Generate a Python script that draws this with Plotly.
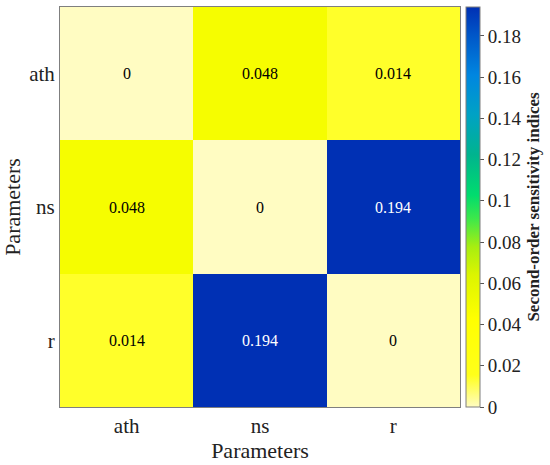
import plotly.graph_objects as go

params = ["ath", "ns", "r"]
# second-order sensitivity indices (rows: ath, ns, r)
row_ath = [0, 0.048, 0.014]
row_ns = [0.048, 0, 0.194]
row_r = [0.014, 0.194, 0]
z = [row_ath, row_ns, row_r]

cbar_ticks = [0, 0.02, 0.04, 0.06, 0.08, 0.1, 0.12, 0.14, 0.16, 0.18]
cbar_labels = ["0", "0.02", "0.04", "0.06", "0.08", "0.1", "0.12", "0.14", "0.16", "0.18"]

# parula-like scale, light yellow -> yellow -> green -> blue
cscale = [
    [0.0, "#fffcc2"],
    [0.08, "#ffff1a"],
    [0.22, "#ffff00"],
    [0.33, "#dcf500"],
    [0.40, "#a8ee10"],
    [0.47, "#3ee84a"],
    [0.53, "#00dc6e"],
    [0.63, "#00b48e"],
    [0.73, "#00a2c4"],
    [0.83, "#0086e0"],
    [0.93, "#0056c8"],
    [1.0, "#0030b4"],
]

font_family = "Liberation Serif"

fig = go.Figure(go.Heatmap(
    z=z, x=params, y=params,
    colorscale=cscale, zmin=0, zmax=0.194,
    colorbar=dict(
        x=1.015, xanchor="left", y=0.5, len=1, lenmode="fraction",
        xpad=0, ypad=0,
        thickness=14, outlinecolor="#7f7f7f", outlinewidth=1,
        tickvals=cbar_ticks, ticktext=cbar_labels,
        ticks="outside", ticklen=4, tickcolor="#555",
        tickfont=dict(family=font_family, size=19, color="#222"),
        title=dict(text="<b>Second-order sensitivity indices</b>", side="right",
                   font=dict(family=font_family, size=17, color="#222")),
    ),
))

for i, row in enumerate(z):
    for j, v in enumerate(row):
        fig.add_annotation(
            x=params[j], y=params[i], text=f"{v:g}", showarrow=False,
            font=dict(family=font_family, size=16,
                      color="white" if v > 0.1 else "black"),
        )

fig.update_xaxes(
    title=dict(text="Parameters", font=dict(family=font_family, size=22, color="#222"), standoff=2),
    tickfont=dict(family=font_family, size=21, color="#222"),
    showline=True, linecolor="#7f7f7f", linewidth=1, mirror=True, ticks="", showgrid=False,
    automargin=False,
)
fig.update_yaxes(
    title=dict(text="Parameters", font=dict(family=font_family, size=22, color="#222"), standoff=6),
    tickfont=dict(family=font_family, size=21, color="#222"),
    autorange="reversed",
    showline=True, linecolor="#7f7f7f", linewidth=1, mirror=True, ticks="", showgrid=False,
    automargin=False,
)

fig.update_layout(
    width=550, height=465,
    margin=dict(l=60, r=90, t=7, b=58),
    plot_bgcolor="white", paper_bgcolor="white",
)

fig.write_html("out.html", config={"displayModeBar": False},
               post_script="document.body.style.margin='0px';")
